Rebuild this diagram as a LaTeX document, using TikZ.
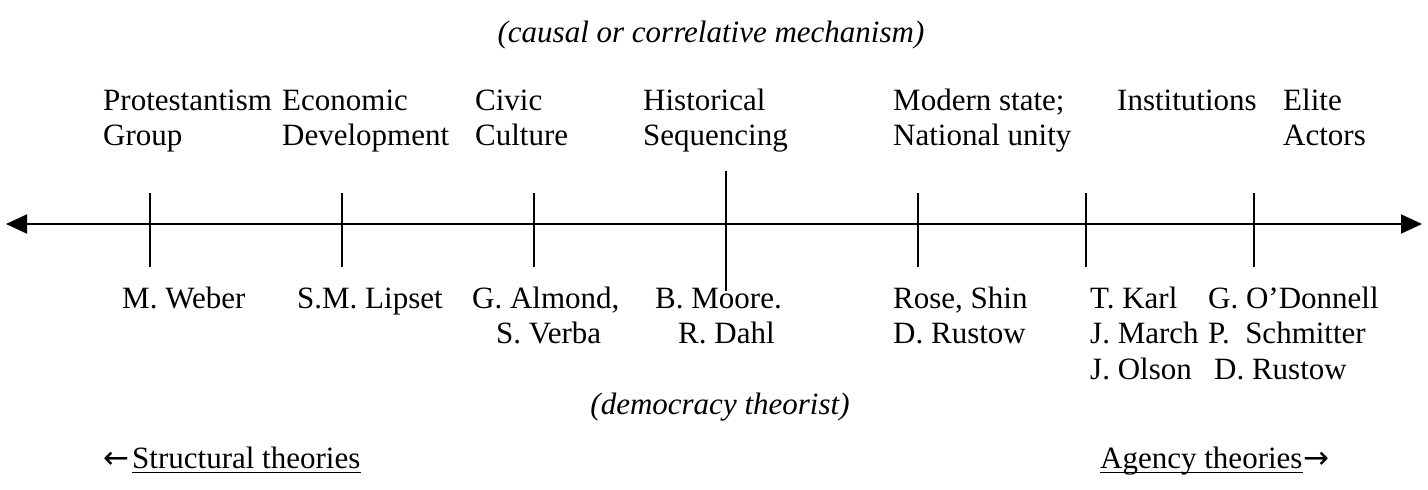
\documentclass[tikz,border=0pt]{standalone}
\usepackage{fontspec}
\setmainfont{Liberation Serif}
\newfontfamily\arrowfont{DejaVu Sans}
\usetikzlibrary{arrows.meta}
\newcommand{\stackl}[1]{\begin{tabular}[t]{@{}l@{}}#1\end{tabular}}
\begin{document}
\begin{tikzpicture}[x=1pt,y=-1pt,
  lbl/.style={inner sep=0pt, anchor=base west, font=\fontsize{31}{35.6}\selectfont},
  ctr/.style={inner sep=0pt, anchor=base, font=\fontsize{31}{35.6}\selectfont\itshape},
  arr/.style={inner sep=0pt, font=\fontsize{31}{35.6}\arrowfont},
  tick/.style={line width=2pt},
  uline/.style={line width=1.8pt},
  axis/.style={line width=2pt, {Triangle[length=21pt,width=19pt]}-{Triangle[length=21pt,width=19pt]}}]
\useasboundingbox (0,0) rectangle (1428,490);
% title
\node[ctr] (title) at (711,42) {(causal or correlative mechanism)};
% top labels
\node[lbl] (l1) at (103,110) {\stackl{Protestantism\\Group}};
\node[lbl] (l2) at (282,110) {\stackl{Economic\\Development}};
\node[lbl] (l3) at (475,110) {\stackl{Civic\\Culture}};
\node[lbl] (l4) at (643,110) {\stackl{Historical\\Sequencing}};
\node[lbl] (l5) at (893,110) {\stackl{Modern state;\\National unity}};
\node[lbl] (l6) at (1117,110) {Institutions};
\node[lbl] (l7) at (1283,110) {\stackl{Elite\\Actors}};
% axis
\coordinate (aL) at (6,224);
\coordinate (aR) at (1422,224);
\draw[axis] (aL) -- (aR);
% ticks
\foreach \n/\x in {t1/150,t2/342,t3/534,t5/918,t6/1086,t7/1254}{
  \coordinate (\n a) at (\x,193);
  \coordinate (\n b) at (\x,267);
  \draw[tick] (\n a) -- (\n b);
}
\coordinate (t4a) at (726,171);
\coordinate (t4b) at (726,291);
\draw[tick] (t4a) -- (t4b);
% names
\node[lbl] (n1) at (122,308) {M. Weber};
\node[lbl] (n2) at (297,308) {S.M. Lipset};
\node[lbl] (n3) at (472,308) {\stackl{G. Almond,\\\hspace{24pt}S. Verba}};
\node[lbl] (n4) at (655,308) {\stackl{B. Moore.\\\hspace{23pt}R. Dahl}};
\node[lbl] (n5) at (893,308) {\stackl{Rose, Shin\\D. Rustow}};
\node[lbl] (n6) at (1090,308) {\stackl{T. Karl\\J. March\\J. Olson}};
\node[lbl] (n7) at (1208,308) {\stackl{G. O’Donnell\\P.\ \ Schmitter\\\hspace{6pt}D. Rustow}};
% bottom
\node[ctr] (dem) at (720,414) {(democracy theorist)};
\node[lbl] (st) at (132,468) {Structural theories};
\node[arr, anchor=base east] (stA) at ([xshift=-2pt]st.base west) {←};
\node[lbl] (ag) at (1100,468) {Agency theories};
\node[arr, anchor=base west] (agA) at ([xshift=1pt]ag.base east) {→};
\draw[uline] ([yshift=-4.5pt]st.base west) -- ([yshift=-4.5pt]st.base east);
\draw[uline] ([yshift=-4.5pt]ag.base west) -- ([yshift=-4.5pt]ag.base east);
\end{tikzpicture}
\end{document}
